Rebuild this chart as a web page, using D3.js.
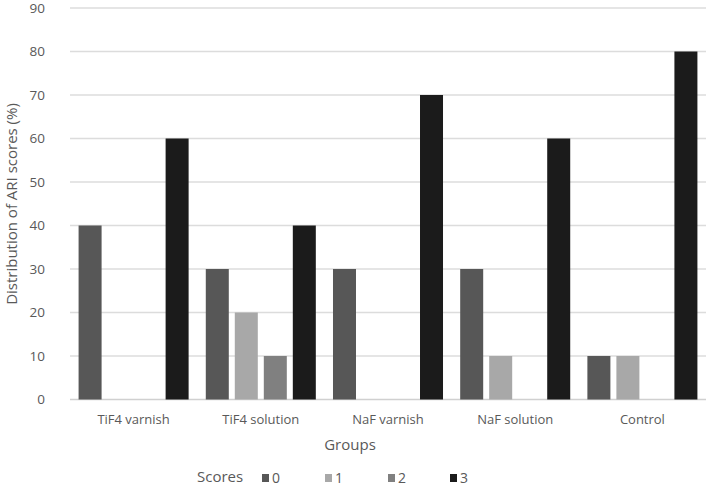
<!DOCTYPE html>
<html><head><meta charset="utf-8">
<script src="https://cdn.jsdelivr.net/npm/d3@7"></script>
<style>body{margin:0;background:#fff}svg{display:block}text{font-family:"Open Sans",sans-serif;fill:#595959}</style>
</head><body><svg id="c" width="708" height="488"></svg>
<script>
const groups = ["TiF4 varnish","TiF4 solution","NaF varnish","NaF solution","Control"];
const scores = ["0","1","2","3"];
const score0 = [40,30,30,30,10];
const score1 = [0,20,0,10,10];
const score2 = [0,10,0,0,0];
const score3 = [60,40,70,60,80];
const yTicks = [0,10,20,30,40,50,60,70,80,90];
const colors = ["#575757","#a8a8a8","#808080","#1b1b1b"];
const seriesVals = [score0,score1,score2,score3];

const svg = d3.select("#c");
const L=70,R=706,T=8,B=399.5;
const y = d3.scaleLinear().domain([0,90]).range([B,T]);
const x0 = d3.scaleBand().domain(groups).range([L,R]);
const x1 = d3.scaleBand().domain(scores).range([0,x0.bandwidth()]).paddingInner(0.207).paddingOuter(0.296);

svg.append("g").selectAll("line").data(yTicks).join("line")
  .attr("x1",L).attr("x2",R).attr("y1",d=>y(d)).attr("y2",d=>y(d))
  .attr("stroke",d=>d===0?"#d0d0d0":"#dcdcdc").attr("stroke-width",1.3);

svg.append("g").selectAll("text").data(yTicks).join("text")
  .attr("x",45).attr("y",d=>y(d)).attr("dy","0.35em").attr("text-anchor","end")
  .attr("font-size",13.5).text(d=>d);

const data = [];
groups.forEach((g,i)=>scores.forEach((s,j)=>data.push({g,s,v:seriesVals[j][i],c:colors[j]})));
svg.append("g").selectAll("rect").data(data.filter(d=>d.v>0)).join("rect")
  .attr("x",d=>x0(d.g)+x1(d.s)).attr("width",x1.bandwidth())
  .attr("y",d=>y(d.v)).attr("height",d=>y(0)-y(d.v)).attr("fill",d=>d.c);

svg.append("g").selectAll("text").data(groups).join("text")
  .attr("x",d=>x0(d)+x0.bandwidth()/2).attr("y",424).attr("text-anchor","middle")
  .attr("font-size",13).text(d=>d);

svg.append("text").attr("x",350).attr("y",450).attr("text-anchor","middle").attr("font-size",15).text("Groups");
svg.append("text").attr("transform","translate(17,204) rotate(-90)").attr("text-anchor","middle")
  .attr("font-size",15).text("Distribution of ARI scores (%)");

const lg = svg.append("g");
lg.append("text").attr("x",197).attr("y",482).attr("font-size",15).text("Scores");
const lx = d3.scaleOrdinal().domain(scores).range([262,325,388,450]);
lg.selectAll("rect").data(scores).join("rect").attr("x",d=>lx(d)).attr("y",474).attr("width",7).attr("height",8)
  .attr("fill",(d,i)=>colors[i]);
lg.selectAll("text.l").data(scores).join("text").attr("class","l").attr("x",d=>lx(d)+10).attr("y",483)
  .attr("font-size",14).text(d=>d);
</script></body></html>
